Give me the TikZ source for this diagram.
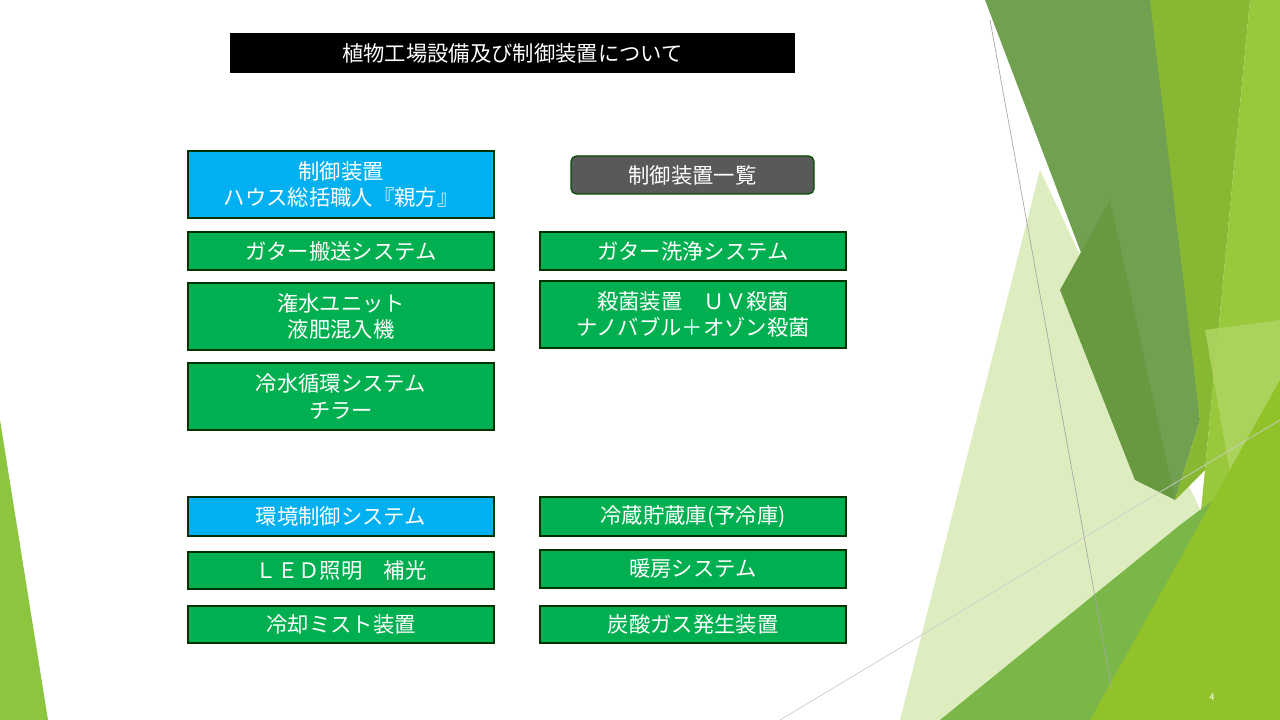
\documentclass[tikz,border=0pt]{standalone}
\usepackage{fontspec}
\setmainfont{Noto Sans CJK JP}
\begin{document}
\begin{tikzpicture}[x=0.75pt,y=-0.75pt,
  box/.style={draw=black!80!green,line width=0.9pt,inner sep=0pt,align=center,text=white,font=\fontsize{16}{20}\selectfont},
  gbox/.style={box,fill=green!60!black!90!cyan},
  bbox/.style={box,fill=cyan!70!blue!90!white}]
\definecolor{gr}{HTML}{00B050}\definecolor{bl}{HTML}{00B0F0}
\tikzset{gbox/.style={box,fill=gr},bbox/.style={box,fill=bl}}
\useasboundingbox (0,0) rectangle (1280,720);
\fill[white] (0,0) rectangle (1280,720);
% background facets
\fill[fill={rgb,255:red,214;green,233;blue,176},opacity=0.8] (1040,170) -- (1205,520) -- (960,720) -- (900,720) -- cycle;
\fill[fill={rgb,255:red,112;green,160;blue,80}] (985,0) -- (1160,0) -- (1200,420) -- (1175,500) -- cycle;
\fill[fill={rgb,255:red,104;green,152;blue,64}] (1110,200) -- (1175,500) -- (1135,480) -- (1060,290) -- cycle;
\fill[fill={rgb,255:red,136;green,184;blue,50}] (1150,0) -- (1250,0) -- (1205,470) -- (1175,500) -- (1200,420) -- cycle;
\fill[fill={rgb,255:red,154;green,200;blue,60}] (1250,0) -- (1280,0) -- (1280,720) -- (1180,720) -- (1205,470) -- cycle;
\fill[fill={rgb,255:red,176;green,214;blue,100},opacity=0.8] (1205,330) -- (1280,320) -- (1280,480) -- (1240,530) -- cycle;
\fill[fill={rgb,255:red,122;green,182;blue,72}] (940,720) -- (1180,525) -- (1280,450) -- (1280,500) -- (1100,720) -- cycle;
\fill[fill={rgb,255:red,146;green,194;blue,42}] (1280,380) -- (1280,720) -- (1090,720) -- cycle;
\fill[fill={rgb,255:red,140;green,198;blue,63}] (0,420) -- (48,720) -- (0,720) -- cycle;
\draw[gray!70,line width=0.5pt] (990,20) -- (1112,690);
\draw[gray!40,line width=0.5pt] (780,720) -- (1280,420);
% title
\node[fill=black,text=white,minimum width=565*0.75pt,minimum height=40*0.75pt,inner sep=0pt,font=\fontsize{16}{20}\selectfont] (title) at (512.5,53) {植物工場設備及び制御装置について};
% boxes
\node[bbox,minimum width=306*0.75pt,minimum height=67*0.75pt] (b1) at (341,184.5) {制御装置\\ハウス総括職人『親方』};
\node[box,fill=black!65,rounded corners=4pt,draw=green!30!black,minimum width=243*0.75pt,minimum height=38*0.75pt] (list) at (692.5,175) {制御装置一覧};
\node[gbox,minimum width=306*0.75pt,minimum height=38*0.75pt] (l1) at (341,251) {ガター搬送システム};
\node[gbox,minimum width=306*0.75pt,minimum height=67*0.75pt] (l2) at (341,316.5) {潅水ユニット\\液肥混入機};
\node[gbox,minimum width=306*0.75pt,minimum height=67*0.75pt] (l3) at (341,396.5) {冷水循環システム\\チラー};
\node[bbox,minimum width=306*0.75pt,minimum height=39*0.75pt] (l4) at (341,516.5) {環境制御システム};
\node[gbox,minimum width=306*0.75pt,minimum height=37*0.75pt] (l5) at (341,570.5) {ＬＥＤ照明　補光};
\node[gbox,minimum width=306*0.75pt,minimum height=37*0.75pt] (l6) at (341,624.5) {冷却ミスト装置};
\node[gbox,minimum width=306*0.75pt,minimum height=38*0.75pt] (r1) at (693,251) {ガター洗浄システム};
\node[gbox,minimum width=306*0.75pt,minimum height=67*0.75pt] (r2) at (693,314.5) {殺菌装置　ＵＶ殺菌\\ナノバブル＋オゾン殺菌};
\node[gbox,minimum width=306*0.75pt,minimum height=39*0.75pt] (r3) at (693,516.5) {冷蔵貯蔵庫(予冷庫)};
\node[gbox,minimum width=306*0.75pt,minimum height=38*0.75pt] (r4) at (693,569) {暖房システム};
\node[gbox,minimum width=306*0.75pt,minimum height=37*0.75pt] (r5) at (693,624.5) {炭酸ガス発生装置};
\node[text=white,font=\fontsize{7}{8}\selectfont] (pg) at (1212,697) {4};
\end{tikzpicture}
\end{document}
